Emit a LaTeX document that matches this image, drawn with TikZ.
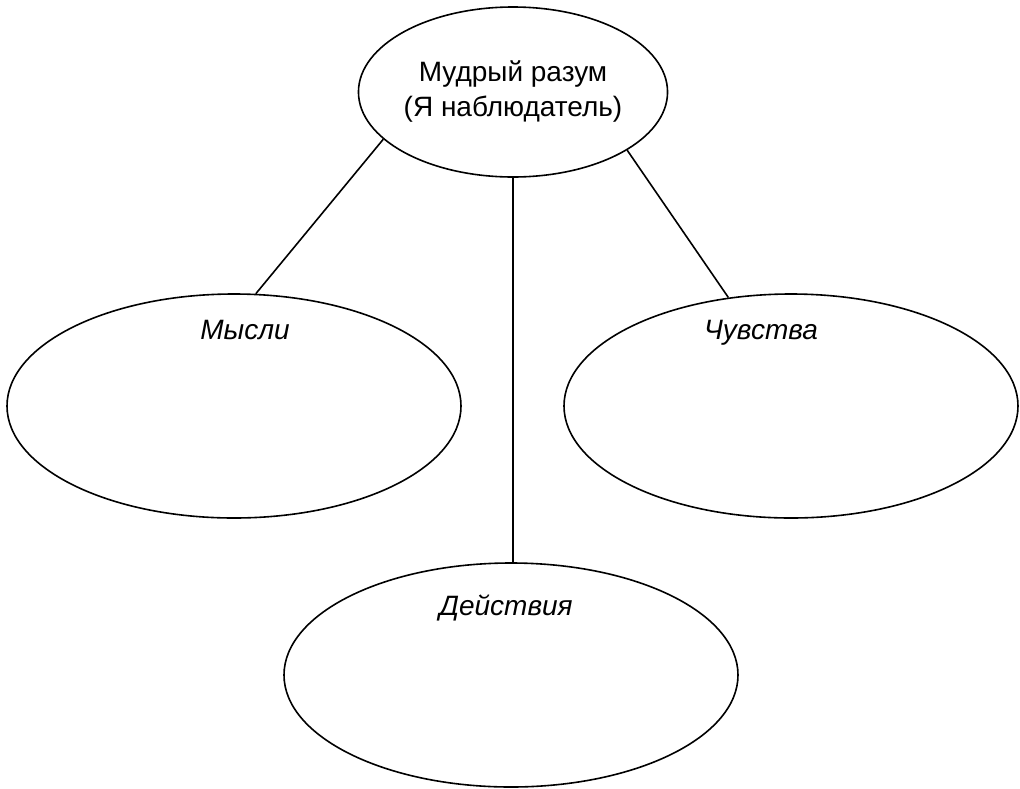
\documentclass[tikz,border=0pt]{standalone}
\usepackage{fontspec}
\setmainfont{Liberation Sans}
\usepackage{tikz}
\usetikzlibrary{shapes.geometric,calc}

\begin{document}
\begin{tikzpicture}[x=1pt,y=-1pt,
  area/.style={draw,ellipse,line width=1.6pt,inner sep=0pt,minimum width=454pt,minimum height=224pt},
  tag/.style={anchor=base,font=\fontsize{28}{35}\selectfont\itshape},
  link/.style={line width=1.6pt}]
\useasboundingbox (0,0) rectangle (1020,788);
\node[area,minimum width=266pt,minimum height=170pt,align=center,font=\fontsize{28}{35}\selectfont] (mind) at (513,92) {Мудрый разум\\(Я наблюдатель)};
\node[area] (mysli) at (234,406) {};
\node[area] (chuvstva) at (791,406) {};
\node[area] (deistviya) at (511,675) {};
\node[tag] (mysliTag) at (245,339) {Мысли};
\node[tag] (chuvstvaTag) at (761,339) {Чувства};
\node[tag] (deistviyaTag) at (506,615) {Действия};
\draw[link] (mind.200.7) -- (mysli.79);
\draw[link] (mind.south) -- (mind.south |- deistviya.north);
\draw[link] (mind.333.4) -- (chuvstva.120);
\end{tikzpicture}
\end{document}
